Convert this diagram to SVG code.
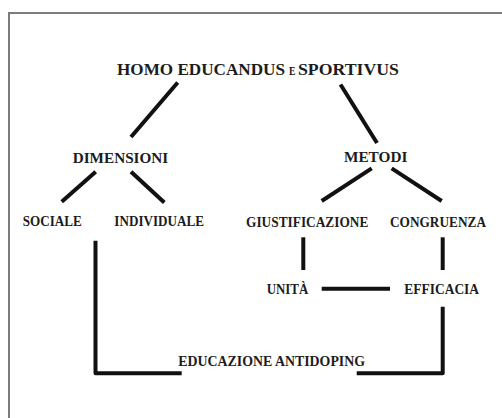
<svg xmlns="http://www.w3.org/2000/svg" width="502" height="418" viewBox="0 0 502 418">
<style>
.t{font-family:'Liberation Serif','DejaVu Serif',serif;font-weight:700;fill:#1c1c1c;text-anchor:middle;font-size:15px}
.s{text-anchor:start}
.h{font-size:17.5px}
.c{stroke:#111;stroke-width:4;fill:none;stroke-linecap:butt;stroke-linejoin:round}
</style>
<rect width="502" height="418" fill="#fff"/>
<path d="M9 418V13H502" fill="none" stroke="#7c7c7c" stroke-width="2"/>
<g id="connectors">
<line class="c" x1="177.7" y1="82.5" x2="131" y2="137"/>
<line class="c" x1="340.5" y1="84.5" x2="377" y2="143"/>
<line class="c" x1="95.7" y1="171.7" x2="61.7" y2="201.7"/>
<line class="c" x1="131" y1="171.7" x2="164.3" y2="202.5"/>
<line class="c" x1="371.7" y1="168.3" x2="321.7" y2="201"/>
<line class="c" x1="391.7" y1="168.3" x2="441.7" y2="201"/>
<line class="c" x1="303.3" y1="237.3" x2="303.3" y2="270"/>
<line class="c" x1="442.7" y1="237.3" x2="442.7" y2="270"/>
<line class="c" x1="321.7" y1="288.7" x2="390" y2="288.7"/>
<path class="c" d="M95.5 240.7V373.3H181.7"/>
<path class="c" d="M442.7 306.7V373.3H356.7"/>
</g>
<g id="n-root">
<text class="t s h" x="117" y="75" textLength="168" lengthAdjust="spacingAndGlyphs">HOMO EDUCANDUS</text>
<text class="t s" x="289" y="75" style="font-size:13px" textLength="6.5" lengthAdjust="spacingAndGlyphs">E</text>
<text class="t s h" x="298" y="75" textLength="101" lengthAdjust="spacingAndGlyphs">SPORTIVUS</text>
</g>
<g id="n-dimensioni"><text class="t" x="120.5" y="162.5" textLength="95.6" lengthAdjust="spacingAndGlyphs">DIMENSIONI</text></g>
<g id="n-metodi"><text class="t" x="375.7" y="162" textLength="63.3" lengthAdjust="spacingAndGlyphs">METODI</text></g>
<g id="n-sociale"><text class="t" x="52.2" y="226" textLength="59" lengthAdjust="spacingAndGlyphs">SOCIALE</text></g>
<g id="n-individuale"><text class="t" x="159.2" y="226" textLength="89.7" lengthAdjust="spacingAndGlyphs">INDIVIDUALE</text></g>
<g id="n-giustificazione"><text class="t" x="307.2" y="226.5" textLength="122.3" lengthAdjust="spacingAndGlyphs">GIUSTIFICAZIONE</text></g>
<g id="n-congruenza"><text class="t" x="438" y="226.5" textLength="96" lengthAdjust="spacingAndGlyphs">CONGRUENZA</text></g>
<g id="n-unita"><text class="t" x="287.5" y="294" textLength="41.6" lengthAdjust="spacingAndGlyphs">UNITÀ</text></g>
<g id="n-efficacia"><text class="t" x="441.7" y="294" textLength="74.7" lengthAdjust="spacingAndGlyphs">EFFICACIA</text></g>
<g id="n-antidoping"><text class="t" x="271.7" y="365.7" textLength="186.7" lengthAdjust="spacingAndGlyphs">EDUCAZIONE ANTIDOPING</text></g>
</svg>
